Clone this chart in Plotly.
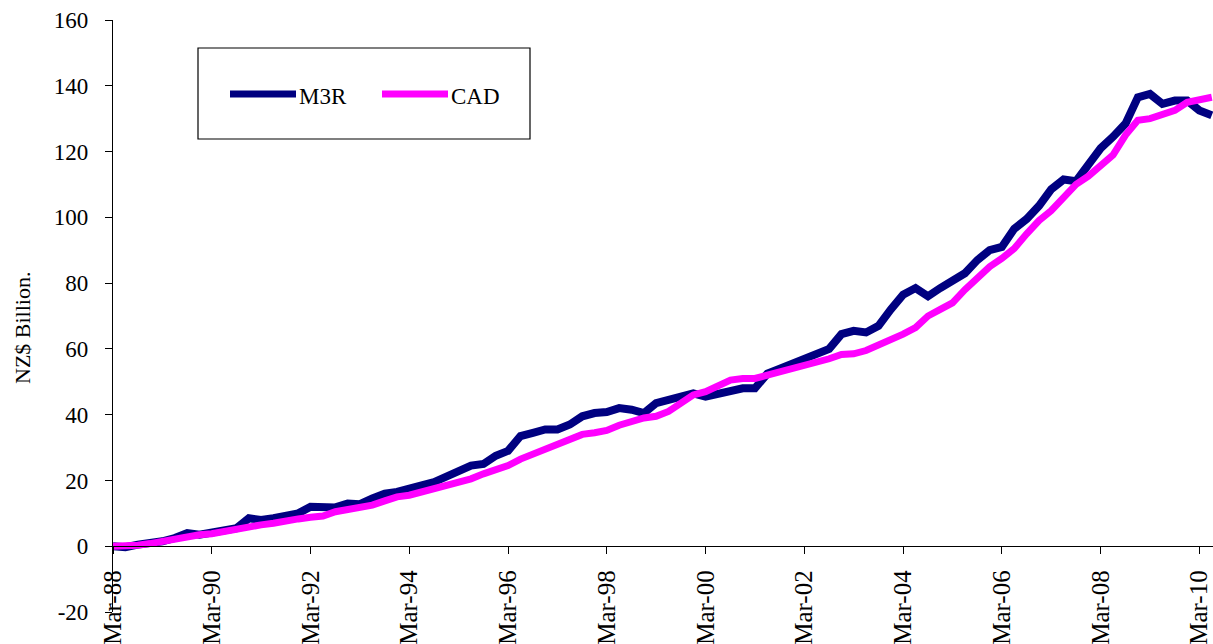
import pandas as pd
import plotly.graph_objects as go

# Quarterly observations, March 1988 to June 2010 (NZ$ billion, change since Mar-88)
dates = pd.date_range("1988-03-01", "2010-06-01", freq="3MS")

m3r = [
    0.0, -0.3, 0.5, 0.8, 1.5, 2.5, 4.0, 3.5, 4.0, 4.5,
    5.5, 8.5, 8.0, 8.5, 9.5, 10.0, 12.0, 12.0, 11.8, 13.0,
    12.8, 14.5, 16.0, 16.5, 17.8, 18.5, 19.5, 21.0, 22.5, 24.5,
    25.0, 27.5, 29.0, 33.5, 34.5, 35.5, 35.5, 37.0, 39.5, 40.5,
    40.8, 42.0, 41.5, 40.5, 43.5, 44.5, 46.0, 46.5, 45.5, 46.5,
    47.0, 48.0, 48.0, 52.5, 54.0, 55.5, 57.0, 58.5, 60.0, 64.5,
    65.5, 65.0, 67.0, 72.0, 76.5, 78.5, 76.0, 78.5, 80.5, 83.0,
    87.0, 90.0, 91.0, 96.5, 99.5, 103.5, 108.5, 111.5, 111.0, 116.0,
    121.0, 124.5, 128.5, 136.5, 137.5, 134.5, 135.5, 135.5, 132.5, 131.0,
]

cad = [
    0.0, 0.0, 0.3, 0.8, 1.5, 2.5, 3.2, 3.5, 3.8, 4.5,
    5.5, 6.0, 6.5, 7.0, 7.8, 8.3, 8.8, 9.2, 10.5, 11.0,
    11.5, 12.5, 13.8, 15.0, 15.5, 16.5, 17.5, 18.5, 19.3, 20.5,
    22.0, 23.2, 24.5, 26.5, 28.0, 29.5, 31.0, 32.5, 34.0, 34.5,
    35.2, 36.8, 38.0, 39.0, 39.5, 41.0, 43.5, 46.0, 47.0, 48.5,
    50.5, 51.0, 51.0, 52.0, 53.0, 54.0, 55.0, 55.5, 57.0, 58.3,
    58.5, 59.5, 61.0, 63.0, 64.5, 66.5, 70.0, 72.0, 74.0, 78.0,
    81.5, 85.0, 87.5, 90.5, 95.0, 99.0, 102.0, 106.0, 110.0, 112.5,
    116.0, 119.0, 125.0, 129.5, 130.0, 131.0, 132.5, 135.0, 135.5, 136.5,
]

series_names = ["M3R", "CAD"]
series_colors = ["#000080", "#FF00FF"]

y_ticks = [-20, 0, 20, 40, 60, 80, 100, 120, 140, 160]
y_tick_labels = ["-20", "0", "20", "40", "60", "80", "100", "120", "140", "160"]

FONT = '"Liberation Serif", "Times New Roman", serif'
W, H = 1213, 644
ML, MR, MT, MB = 113, 0, 20, 32
PW, PH = W - ML - MR, H - MT - MB


def px_x(p):
    return (p - ML) / PW


def px_y(p):
    return (H - MB - p) / PH


fig = go.Figure()
fig.add_trace(go.Scatter(x=dates, y=m3r, mode="lines", name=series_names[0],
                         line=dict(color=series_colors[0], width=8)))
fig.add_trace(go.Scatter(x=dates, y=cad, mode="lines", name=series_names[1],
                         line=dict(color=series_colors[1], width=7)))

# Boxed legend
shapes = [dict(type="rect", xref="paper", yref="paper",
               x0=px_x(198), x1=px_x(530), y0=px_y(139), y1=px_y(48),
               line=dict(color="black", width=1.2), fillcolor="white", layer="below")]
annotations = []
for name, color, x0 in zip(series_names, series_colors, [230, 382]):
    shapes.append(dict(type="line", xref="paper", yref="paper",
                       x0=px_x(x0), x1=px_x(x0 + 66), y0=px_y(94), y1=px_y(94),
                       line=dict(color=color, width=7)))
    annotations.append(dict(xref="paper", yref="paper", x=px_x(x0 + 67), y=px_y(96),
                            text=name, showarrow=False, xanchor="left", yanchor="middle",
                            font=dict(family=FONT, size=23, color="black")))

# Vertical axis title
annotations.append(dict(xref="paper", yref="paper", x=px_x(22), y=px_y(328),
                        text="NZ$ Billion.", textangle=-90, showarrow=False,
                        xanchor="center", yanchor="middle",
                        font=dict(family=FONT, size=22, color="black")))

fig.update_layout(
    width=W, height=H,
    margin=dict(l=ML, r=MR, t=MT, b=MB),
    paper_bgcolor="white", plot_bgcolor="white",
    showlegend=False,
    shapes=shapes, annotations=annotations,
    xaxis=dict(
        range=["1988-03-01", "2010-06-10"],
        tick0="1988-03-01", dtick="M24", tickformat="%b-%y",
        tickangle=-90, ticks="outside", ticklen=7, tickcolor="black",
        showline=True, linecolor="black", linewidth=1.2,
        showgrid=False, zeroline=False,
        anchor="free", position=20 / 180,
        ticklabelstandoff=6,
        tickfont=dict(family=FONT, size=25, color="black"),
    ),
    yaxis=dict(
        range=[-20, 160], tickvals=y_ticks, ticktext=y_tick_labels,
        ticks="outside", ticklen=7, tickcolor="black",
        showline=True, linecolor="black", linewidth=1.2,
        showgrid=False, zeroline=False,
        ticklabelstandoff=12,
        tickfont=dict(family=FONT, size=23, color="black"),
    ),
)

fig.write_html("out.html")
